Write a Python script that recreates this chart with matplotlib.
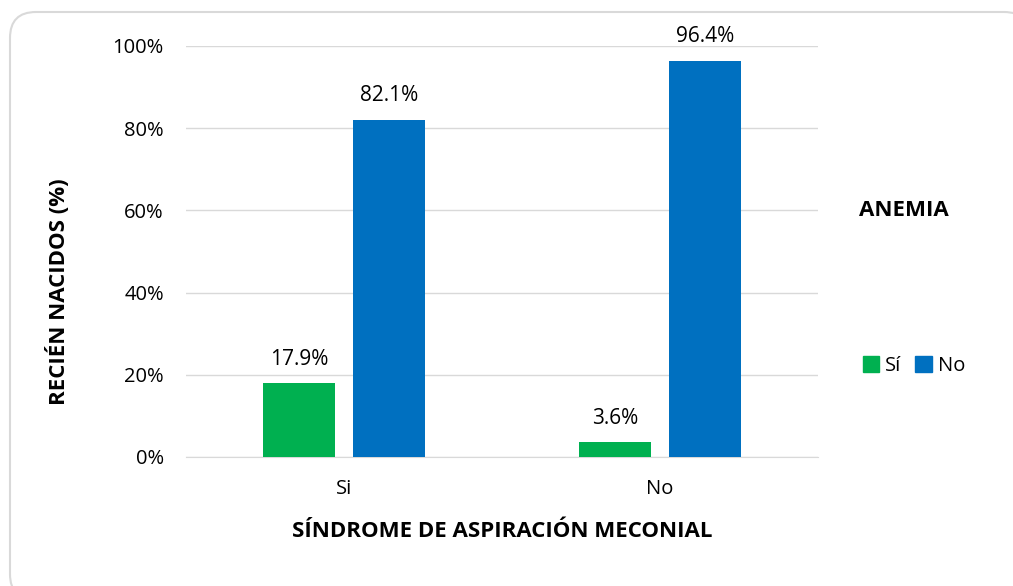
import matplotlib.pyplot as plt
from matplotlib.patches import FancyBboxPatch, Patch
from matplotlib.transforms import IdentityTransform
from matplotlib.ticker import PercentFormatter
import numpy as np

plt.rcParams['font.family'] = ['Open Sans', 'DejaVu Sans']

categories = ["Si", "No"]
anemia_si = [17.9, 3.6]
anemia_no = [82.1, 96.4]
series_labels = ["Sí", "No"]
colors = ["#00B050", "#0070C0"]

fig = plt.figure(figsize=(10.13, 5.86), dpi=100)
ax = fig.add_axes([186 / 1013, 1 - 457 / 586, 632 / 1013, 411 / 586])

# rounded chart border (runs off the right/bottom edge like the original)
border = FancyBboxPatch((10, -14), 1020, 588,
                        boxstyle="round,pad=0,rounding_size=26",
                        transform=IdentityTransform(), facecolor="white",
                        edgecolor="#D9D9D9", linewidth=1.5, zorder=-10)
fig.patches.append(border)

x = np.arange(len(categories))
w = 0.225
off = 0.1425
b1 = ax.bar(x - off, anemia_si, w, color=colors[0], zorder=3)
b2 = ax.bar(x + off, anemia_no, w, color=colors[1], zorder=3)
for bars in (b1, b2):
    for r in bars:
        ax.text(r.get_x() + r.get_width() / 2, r.get_height() + 3.3,
                f"{r.get_height():.1f}%", ha="center", va="bottom", fontsize=15)

ax.set_xlim(-0.5, 1.5)
ax.set_ylim(0, 100)
ax.set_yticks(range(0, 101, 20))
ax.yaxis.set_major_formatter(PercentFormatter(100, decimals=0))
ax.set_xticks(x)
ax.set_xticklabels(categories)
ax.tick_params(length=0, labelsize=14.5)
ax.tick_params(axis="y", pad=16)
ax.tick_params(axis="x", pad=15.5)
ax.grid(axis="y", color="#D9D9D9", linewidth=1)
ax.set_axisbelow(True)
for s in ["top", "right", "left"]:
    ax.spines[s].set_visible(False)
ax.spines["bottom"].set_color("#D9D9D9")

ax.set_xlabel("SÍNDROME DE ASPIRACIÓN MECONIAL", fontsize=16, fontweight="bold", labelpad=16)
fig.text(58 / 1013, 1 - 292 / 586, "RECIÉN NACIDOS (%)", fontsize=16, fontweight="bold",
         rotation=90, ha="center", va="center")

fig.text(904 / 1013, 1 - 211 / 586, "ANEMIA", fontsize=16, fontweight="bold",
         ha="center", va="center")
handles = [Patch(color=c) for c in colors]
fig.legend(handles, series_labels, loc="center", bbox_to_anchor=(914 / 1013, 1 - 366 / 586),
           ncol=2, frameon=False, fontsize=14.5, handlelength=0.8, handleheight=0.8,
           handletextpad=0.3, columnspacing=0.7)

fig.savefig("out.png", dpi=100)
